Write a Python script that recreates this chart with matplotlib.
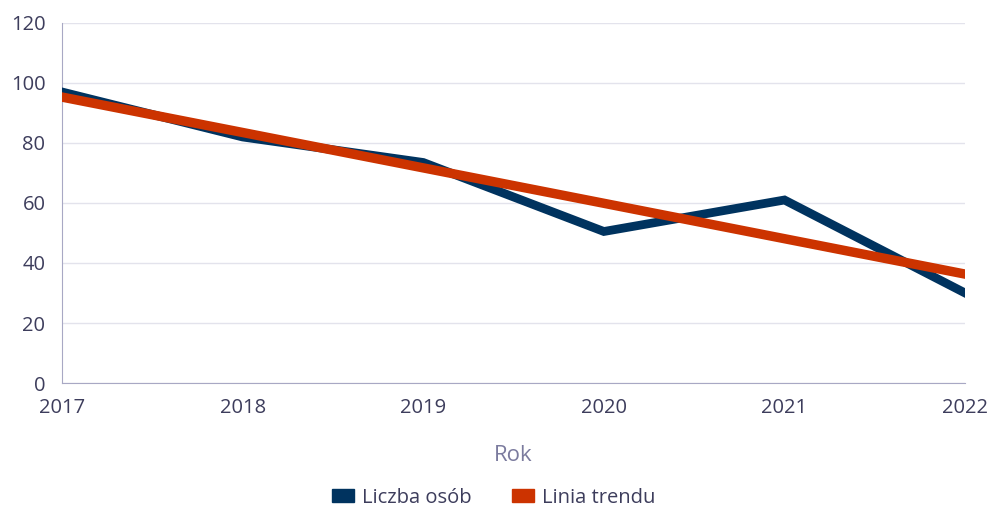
import matplotlib.pyplot as plt
from matplotlib.patches import Patch

# data
years = [2017, 2018, 2019, 2020, 2021, 2022]
liczba = [97, 82, 73.5, 50.5, 61, 30]
trend_x = [2017, 2022]
trend_y = [95.3, 36.3]

blue = '#00335f'
red = '#cc3300'
txt = '#3d3d5c'

plt.rcParams['font.family'] = ['Open Sans', 'DejaVu Sans']

fig = plt.figure(figsize=(9.88, 5.13), dpi=100)
ax = fig.add_axes([0.0628, 0.2534, 0.914, 0.7018])

ax.plot(years, liczba, color=blue, lw=6.3, solid_joinstyle='miter', zorder=3)
ax.plot(trend_x, trend_y, color=red, lw=6.8, zorder=4)

ax.set_xlim(2017, 2022)
ax.set_ylim(0, 120)
ax.set_yticks(range(0, 121, 20))
ax.set_xticks(years)
ax.grid(axis='y', color='#e3e3ec', lw=1)
ax.set_axisbelow(True)
for s in ['top', 'right']:
    ax.spines[s].set_visible(False)
ax.spines['left'].set_color('#a8a8c4')
ax.spines['bottom'].set_color('#a8a8c4')
ax.tick_params(length=0, labelsize=14.5, colors=txt)
ax.tick_params(axis='y', pad=12)
ax.tick_params(axis='x', pad=11)

ax.set_xlabel('Rok', fontsize=16, color='#7b7b9e', labelpad=19)

handles = [Patch(color=blue, label='Liczba osób'), Patch(color=red, label='Linia trendu')]
fig.legend(handles=handles, loc='center', bbox_to_anchor=(0.5, 0.03), ncol=2,
           frameon=False, fontsize=14.5, handlelength=1.1, handleheight=0.55,
           handletextpad=0.4, columnspacing=2.0, labelcolor=txt)

fig.savefig('out.png', dpi=100)
